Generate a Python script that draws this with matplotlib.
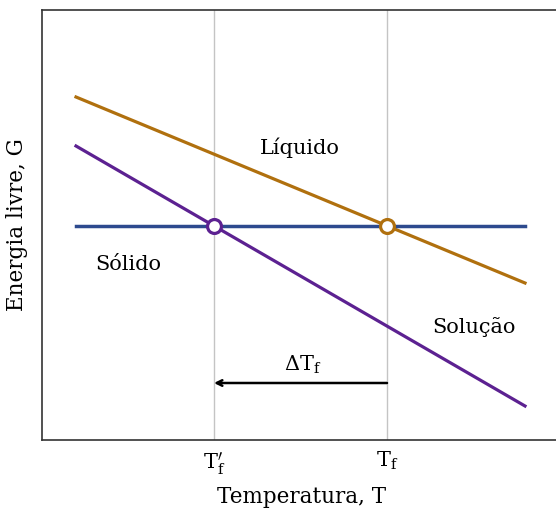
import matplotlib
matplotlib.use("Agg")
import matplotlib.pyplot as plt

plt.rcParams['font.family'] = ['DejaVu Serif']
plt.rcParams['mathtext.fontset'] = 'dejavuserif'

# freezing temperatures (arbitrary units)
t_freeze_solution = 172
t_freeze_pure = 345

# line end points: x and G values
x_ends = [34, 483]
g_solid = [214, 214]
g_liquid = [343, 157]
g_solution = [294, 34]

tick_pos = [t_freeze_solution, t_freeze_pure]
tick_labels = [r"$\mathrm{T}^{\prime}_\mathrm{f}$", r"$\mathrm{T}_\mathrm{f}$"]

orange = '#b0700e'
purple = '#5c2191'
blue = '#2d4a8e'

fig = plt.figure(figsize=(5.56, 5.11), dpi=100)
ax = fig.add_axes([42/556, 71/511, 520/556, 430/511])
ax.set_xlim(0, 520)
ax.set_ylim(0, 430)

for t in tick_pos:
    ax.axvline(t, color='#c4c4c4', lw=1, zorder=1)

ax.plot(x_ends, g_liquid, color=orange, lw=2.3, zorder=2)
ax.plot(x_ends, g_solution, color=purple, lw=2.3, zorder=2)
ax.plot(x_ends, g_solid, color=blue, lw=2.5, zorder=3)

ax.plot([t_freeze_solution], [g_solid[0]], 'o', ms=10, mfc='white', mec=purple, mew=2.3, zorder=4)
ax.plot([t_freeze_pure], [g_solid[0]], 'o', ms=10, mfc='white', mec=orange, mew=2.3, zorder=4)

ax.annotate('', xy=(t_freeze_solution, 57), xytext=(t_freeze_pure, 57),
            arrowprops=dict(arrowstyle='->', color='black', lw=1.8, shrinkA=0, shrinkB=0))
ax.text((t_freeze_solution + t_freeze_pure) / 2 + 2, 64, r"$\Delta\mathrm{T}_\mathrm{f}$",
        ha='center', va='bottom', fontsize=15)

ax.text(258, 292, 'Líquido', ha='center', va='center', fontsize=15)
ax.text(86, 176, 'Sólido', ha='center', va='center', fontsize=15)
ax.text(432, 113, 'Solução', ha='center', va='center', fontsize=15)

ax.set_xticks(tick_pos)
ax.set_xticklabels(tick_labels, fontsize=15)
ax.set_yticks([])
ax.tick_params(axis='x', length=0, pad=7)
ax.set_xlabel('Temperatura, T', fontsize=15.5, labelpad=7)
ax.set_ylabel('Energia livre, G', fontsize=15.5, labelpad=10)

for s in ['left', 'bottom', 'top']:
    ax.spines[s].set_color('#333333')
    ax.spines[s].set_linewidth(1.2)
ax.spines['right'].set_visible(False)

fig.savefig('out.png', dpi=100)
